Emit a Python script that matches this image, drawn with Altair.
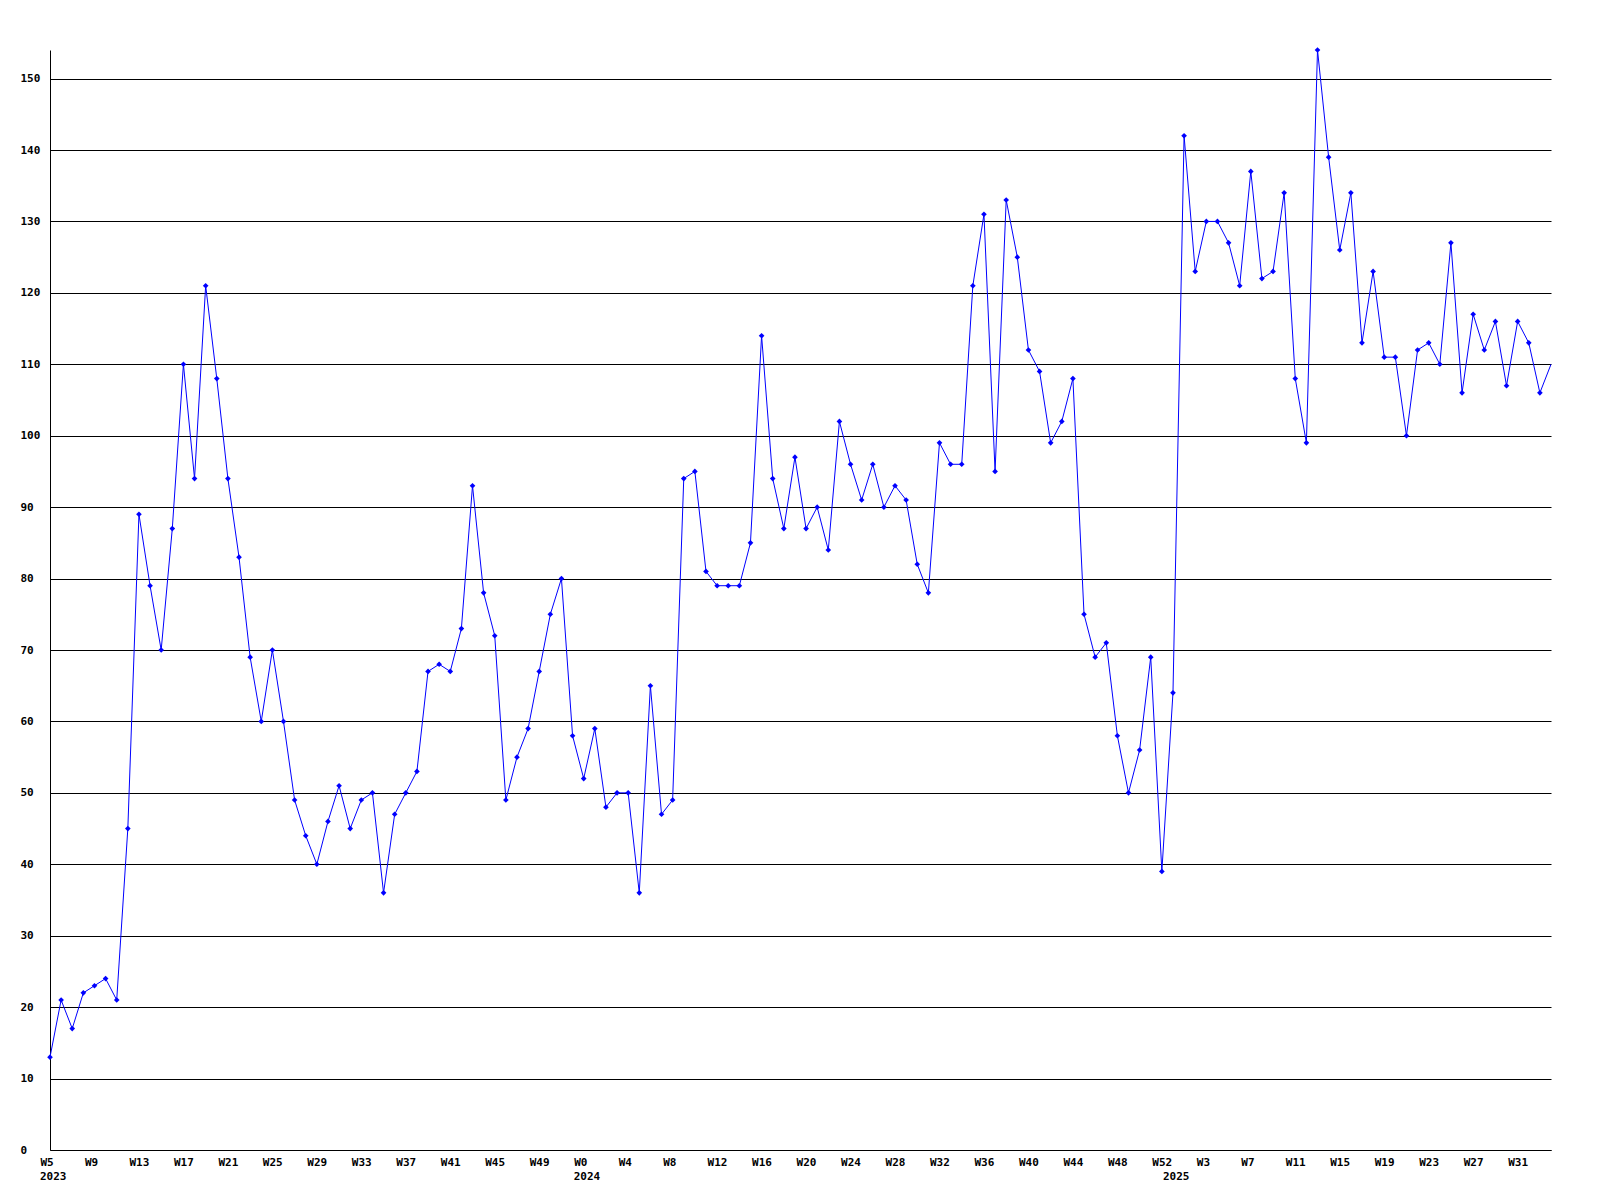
import json
import altair as alt
import pandas as pd

# ---- data ----
years = [2023] * 48 + [2024] * 53 + [2025] * 35
weeks = list(range(5, 53)) + list(range(0, 53)) + list(range(0, 35))

values_2023 = [13, 21, 17, 22, 23, 24, 21, 45, 89, 79, 70, 87, 110, 94, 121, 108,
               94, 83, 69, 60, 70, 60, 49, 44, 40, 46, 51, 45, 49, 50, 36, 47,
               50, 53, 67, 68, 67, 73, 93, 78, 72, 49, 55, 59, 67, 75, 80, 58]
values_2024 = [52, 59, 48, 50, 50, 36, 65, 47, 49, 94, 95, 81, 79, 79, 79, 85,
               114, 94, 87, 97, 87, 90, 84, 102, 96, 91, 96, 90, 93, 91, 82, 78,
               99, 96, 96, 121, 131, 95, 133, 125, 112, 109, 99, 102, 108, 75, 69, 71,
               58, 50, 56, 69, 39]
values_2025 = [64, 142, 123, 130, 130, 127, 121, 137, 122, 123, 134, 108, 99, 154, 139, 126,
               134, 113, 123, 111, 111, 100, 112, 113, 110, 127, 106, 117, 112, 116, 107, 116,
               113, 106, 110]

y_ticks = list(range(0, 151, 10))
tick_step = 4

values = values_2023 + values_2024 + values_2025
n = len(values)
idx = list(range(n))

df = pd.DataFrame({"i": idx, "year": years, "week": weeks, "value": values})

week_labels = [("W%d" % w) if (i % tick_step == 0) else "" for i, w in zip(idx, weeks)]
tick_values = [i for i in idx if i % tick_step == 0]

year_rows = [i for i in idx if i == 0 or years[i] != years[i - 1]]
df_years = pd.DataFrame({"i": year_rows, "label": [str(years[i]) for i in year_rows]})

FONT = "DejaVu Sans Mono"
FS = 11

x_scale = alt.Scale(domain=[0, n - 1], nice=False, zero=False)
y_scale = alt.Scale(domain=[0, max(values)], nice=False, zero=True)

x_axis = alt.Axis(
    values=tick_values,
    labelExpr=json.dumps(week_labels) + "[datum.value]",
    title=None,
    grid=False,
    ticks=False,
    tickSize=0,
    domainColor="black",
    domainWidth=1,
    labelAlign="left",
    labelOffset=-10,
    labelBaseline="middle",
    labelPadding=12,
    labelFont=FONT,
    labelFontSize=FS,
    labelFontWeight="bold",
    labelColor="black",
    labelOverlap=False,
    labelFlush=False,
    labelBound=False,
)

y_axis = alt.Axis(
    values=y_ticks,
    title=None,
    grid=True,
    gridColor="black",
    gridOpacity=1,
    gridWidth=1,
    ticks=False,
    tickSize=0,
    domainColor="black",
    domainWidth=1,
    labelAlign="left",
    labelBaseline="middle",
    labelPadding=30,
    labelFont=FONT,
    labelFontSize=FS,
    labelFontWeight="bold",
    labelColor="black",
    labelOverlap=False,
    labelFlush=False,
    labelBound=False,
)

base = alt.Chart(df)

line = base.mark_line(color="#0000FF", strokeWidth=1).encode(
    x=alt.X("i:Q", scale=x_scale, axis=x_axis),
    y=alt.Y("value:Q", scale=y_scale, axis=y_axis),
)

points = base.transform_filter(alt.datum.i < n - 1).mark_point(
    shape="diamond", filled=True, color="#0000FF", size=32, opacity=1
).encode(
    x=alt.X("i:Q", scale=x_scale),
    y=alt.Y("value:Q", scale=y_scale),
)

PLOT_H = 1100

year_text = alt.Chart(df_years).mark_text(
    align="left", baseline="middle", dx=-10, font=FONT, fontSize=FS,
    fontWeight="bold", color="black"
).encode(
    x=alt.X("i:Q", scale=x_scale),
    y=alt.value(PLOT_H + 27),
    text="label:N",
)

chart = alt.layer(line, points, year_text).properties(
    width=1501,
    height=PLOT_H,
    autosize=alt.AutoSizeParams(type="none"),
    padding={"left": 42, "top": 42, "right": 40, "bottom": 60},
).configure(background="white").configure_view(strokeOpacity=0, strokeWidth=0)

chart.save("out.html", embed_options={"renderer": "svg", "actions": False})
